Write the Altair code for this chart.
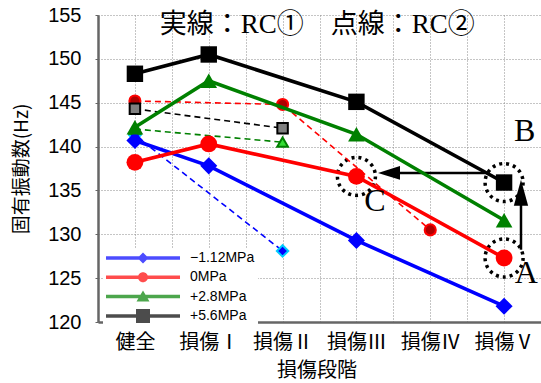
import json
import altair as alt
import pandas as pd

# ---- data -------------------------------------------------------------
stages = ["健全", "損傷Ⅰ", "損傷Ⅱ", "損傷Ⅲ", "損傷Ⅳ", "損傷Ⅴ"]
series = ["−1.12MPa", "0MPa", "+2.8MPa", "+5.6MPa"]

# RC① (solid lines): natural frequency [Hz] per damage stage, None = not measured
rc1_m112 = [140.7, 137.8, None, 129.3, None, 121.8]
rc1_0 = [138.2, 140.3, None, 136.6, None, 127.3]
rc1_28 = [142.2, 147.5, None, 141.4, None, 131.6]
rc1_56 = [148.3, 150.5, None, 145.1, None, 135.9]

# RC② (dashed lines)
rc2_m112 = [141.3, None, 128.1, None, None, None]
rc2_0 = [145.2, None, 144.8, None, 130.5, None]
rc2_28 = [142.0, None, 140.5, None, None, None]
rc2_56 = [144.3, None, 142.1, None, None, None]

# annotations: dotted rings (series, stage), arrows, letters, heading
ring_targets = [("0MPa", 3), ("+5.6MPa", 5), ("0MPa", 5)]
arrow_start_x = [4.74, 5.229]
arrow_start_y = [137.0, 128.24]
arrow_end_x = [3.441, 5.229]
arrow_end_y = [137.0, 134.74]
letters = ["A", "B", "C"]
letter_x = [5.30, 5.28, 3.25]
letter_y = [124.5, 140.6, 132.7]
heading = "実線：RC①　点線：RC②"
heading_x = 2.47
heading_y = 152.9

# ---- styles -----------------------------------------------------------
line_colors = ["#0000ff", "#ff0000", "#008000", "#000000"]
rc1_shapes = ["diamond", "circle", "triangle-up", "square"]
rc1_sizes = [290, 270, 360, 225]
rc2_fill = ["#0000ff", "#b00000", "#33dd33", "#808080"]
rc2_edge = ["#00ccff", "#ff0000", "#008000", "#000000"]
rc2_sizes = [130, 110, 150, 120]

# legend glyphs: a horizontal bar with the marker in its middle (unit = 5 px)
bar = "M-7.4,-0.35H7.4V0.35H-7.4Z"
legend_paths = [
    bar + "M-1.1,0L0,-1.1L1.1,0L0,1.1Z",
    bar + "M1,0A1,1,0,1,1,-1,0A1,1,0,1,1,1,0Z",
    bar + "M0,-1.2L1.3,1L-1.3,1Z",
    bar + "M-1.4,-1.4H1.4V1.4H-1.4Z",
]
head_left = "M-1,0L1,-0.62L1,0.62Z"
head_up = "M0,-1L0.55,1L-0.55,1Z"

SERIF = "Liberation Serif, Noto Sans CJK JP"
JP = "Noto Sans CJK JP"


def long_table(columns):
    rows = []
    for name, vals in zip(series, columns):
        for i, v in enumerate(vals):
            if v is not None:
                rows.append({"stage": i, "freq": v, "series": name})
    return pd.DataFrame(rows)


rc1_df = long_table([rc1_m112, rc1_0, rc1_28, rc1_56])
rc2_df = long_table([rc2_m112, rc2_0, rc2_28, rc2_56])

rc1_lookup = dict(zip(series, [rc1_m112, rc1_0, rc1_28, rc1_56]))
ring_df = pd.DataFrame(
    [{"stage": s, "freq": rc1_lookup[name][s]} for name, s in ring_targets]
)
arrow_df = pd.DataFrame(
    {"stage": arrow_start_x, "freq": arrow_start_y,
     "stage_end": arrow_end_x, "freq_end": arrow_end_y}
)
head_h_df = pd.DataFrame({"stage": arrow_end_x[:1], "freq": arrow_end_y[:1]})
head_v_df = pd.DataFrame({"stage": arrow_end_x[1:], "freq": arrow_end_y[1:]})
letter_df = pd.DataFrame({"stage": letter_x, "freq": letter_y, "txt": letters})
heading_df = pd.DataFrame({"stage": [heading_x], "freq": [heading_y], "txt": [heading]})

# ---- scales & axes ----------------------------------------------------
n = len(stages)
grid_values = [i / 2 - 0.5 for i in range(2 * n + 1)]
label_expr = (
    f"datum.value % 1 == 0 ? {json.dumps(stages, ensure_ascii=False)}[datum.value] : ''"
)

x_axis = alt.Axis(
    values=grid_values, labelExpr=label_expr, labelAngle=0, labelOverlap=False,
    labelFlush=False, ticks=False, grid=True, gridColor="#8a8a8a", gridDash=[1, 2],
    gridWidth=1, domainColor="#666666", domainWidth=2.5,
    labelFont=JP, labelFontSize=20, labelColor="black", labelPadding=10,
    title="損傷段階", titleFont=JP, titleFontSize=20, titleFontWeight="normal",
    titleColor="black", titleX=218.5, titleY=48, titleBaseline="middle",
    titleAlign="center",
)
y_axis = alt.Axis(
    values=list(range(120, 156, 5)), grid=True, gridColor="#8a8a8a", gridDash=[1, 2],
    gridWidth=1, domainColor="#666666", domainWidth=2.5, tickSize=3,
    tickColor="#666666", labelFont="Liberation Sans", labelFontSize=20,
    labelColor="black", labelPadding=14,
    title="固有振動数(Hz)", titleFont=JP, titleFontSize=19, titleFontWeight="normal",
    titleColor="black", titleX=-77, titleY=153.5, titleAngle=270,
    titleBaseline="middle", titleAlign="center",
)

x_enc = alt.X("stage:Q", scale=alt.Scale(domain=[-0.5, n - 0.5], nice=False, zero=False), axis=x_axis)
y_enc = alt.Y("freq:Q", scale=alt.Scale(domain=[120, 155], nice=False, zero=False), axis=y_axis)


def series_scale(rng):
    return alt.Scale(domain=series, range=rng)


# ---- layers -----------------------------------------------------------
rings = alt.Chart(ring_df).mark_point(
    shape="circle", size=1444, filled=False, stroke="black", strokeWidth=3.5,
    strokeDash=[3, 4], opacity=1,
).encode(x=x_enc, y=y_enc)

arrows = alt.Chart(arrow_df).mark_rule(color="black", strokeWidth=2.5).encode(
    x=x_enc, y=y_enc, x2="stage_end:Q", y2="freq_end:Q"
)
head_h = alt.Chart(head_h_df).mark_point(
    shape=head_left, size=484, filled=True, color="black", opacity=1
).encode(x=x_enc, y=y_enc)
head_v = alt.Chart(head_v_df).mark_point(
    shape=head_up, size=676, filled=True, color="black", opacity=1
).encode(x=x_enc, y=y_enc)

rc2_lines = alt.Chart(rc2_df).mark_line(strokeWidth=1.6, strokeDash=[6, 4]).encode(
    x=x_enc, y=y_enc,
    stroke=alt.Stroke("series:N", scale=series_scale(line_colors), legend=None),
    detail="series:N",
)
rc2_points = alt.Chart(rc2_df).mark_point(filled=True, strokeWidth=2, opacity=1).encode(
    x=x_enc, y=y_enc,
    shape=alt.Shape("series:N", scale=series_scale(rc1_shapes), legend=None),
    fill=alt.Fill("series:N", scale=series_scale(rc2_fill), legend=None),
    stroke=alt.Stroke("series:N", scale=series_scale(rc2_edge), legend=None),
    size=alt.Size("series:N", scale=series_scale(rc2_sizes), legend=None),
)

rc1_lines = alt.Chart(rc1_df).mark_line(strokeWidth=3.6).encode(
    x=x_enc, y=y_enc,
    stroke=alt.Stroke("series:N", scale=series_scale(line_colors), legend=None),
    detail="series:N",
)
rc1_points = alt.Chart(rc1_df).mark_point(filled=True, opacity=1, strokeWidth=0).encode(
    x=x_enc, y=y_enc,
    shape=alt.Shape("series:N", scale=series_scale(rc1_shapes), legend=None),
    fill=alt.Fill("series:N", scale=series_scale(line_colors), legend=None),
    size=alt.Size("series:N", scale=series_scale(rc1_sizes), legend=None),
)

letter_marks = alt.Chart(letter_df).mark_text(
    font="Liberation Serif", fontSize=32, color="black", align="center",
    baseline="alphabetic",
).encode(x=x_enc, y=y_enc, text="txt:N")

heading_mark = alt.Chart(heading_df).mark_text(
    font=SERIF, fontSize=27, color="black", align="center", baseline="alphabetic",
).encode(x=x_enc, y=y_enc, text="txt:N")

legend = alt.Legend(
    title=None, orient="none", legendX=5, legendY=233, direction="vertical",
    symbolSize=100, symbolStrokeWidth=0, symbolOffset=30, labelOffset=40,
    labelFont="Liberation Sans", labelFontSize=14, labelColor="black",
    fillColor="white", padding=3, rowPadding=5.3,
)
legend_layer = alt.Chart(rc1_df).transform_filter("false").mark_point(
    filled=True
).encode(
    x=x_enc, y=y_enc,
    color=alt.Color("series:N", scale=series_scale(line_colors), legend=legend),
    shape=alt.Shape("series:N", scale=series_scale(legend_paths), legend=legend),
)

chart = alt.layer(
    rings, arrows, head_h, head_v,
    rc2_lines, rc2_points, rc1_lines, rc1_points,
    letter_marks, heading_mark, legend_layer,
).resolve_scale(
    color="independent", fill="independent", stroke="independent",
    shape="independent", size="independent",
).properties(
    width=443, height=307,
    autosize=alt.AutoSizeParams(type="none"),
    padding={"left": 98, "top": 15, "right": 0, "bottom": 61},
    background="white",
).configure_view(stroke=None)

chart.save("out.html", embed_options={"renderer": "svg", "actions": False})
